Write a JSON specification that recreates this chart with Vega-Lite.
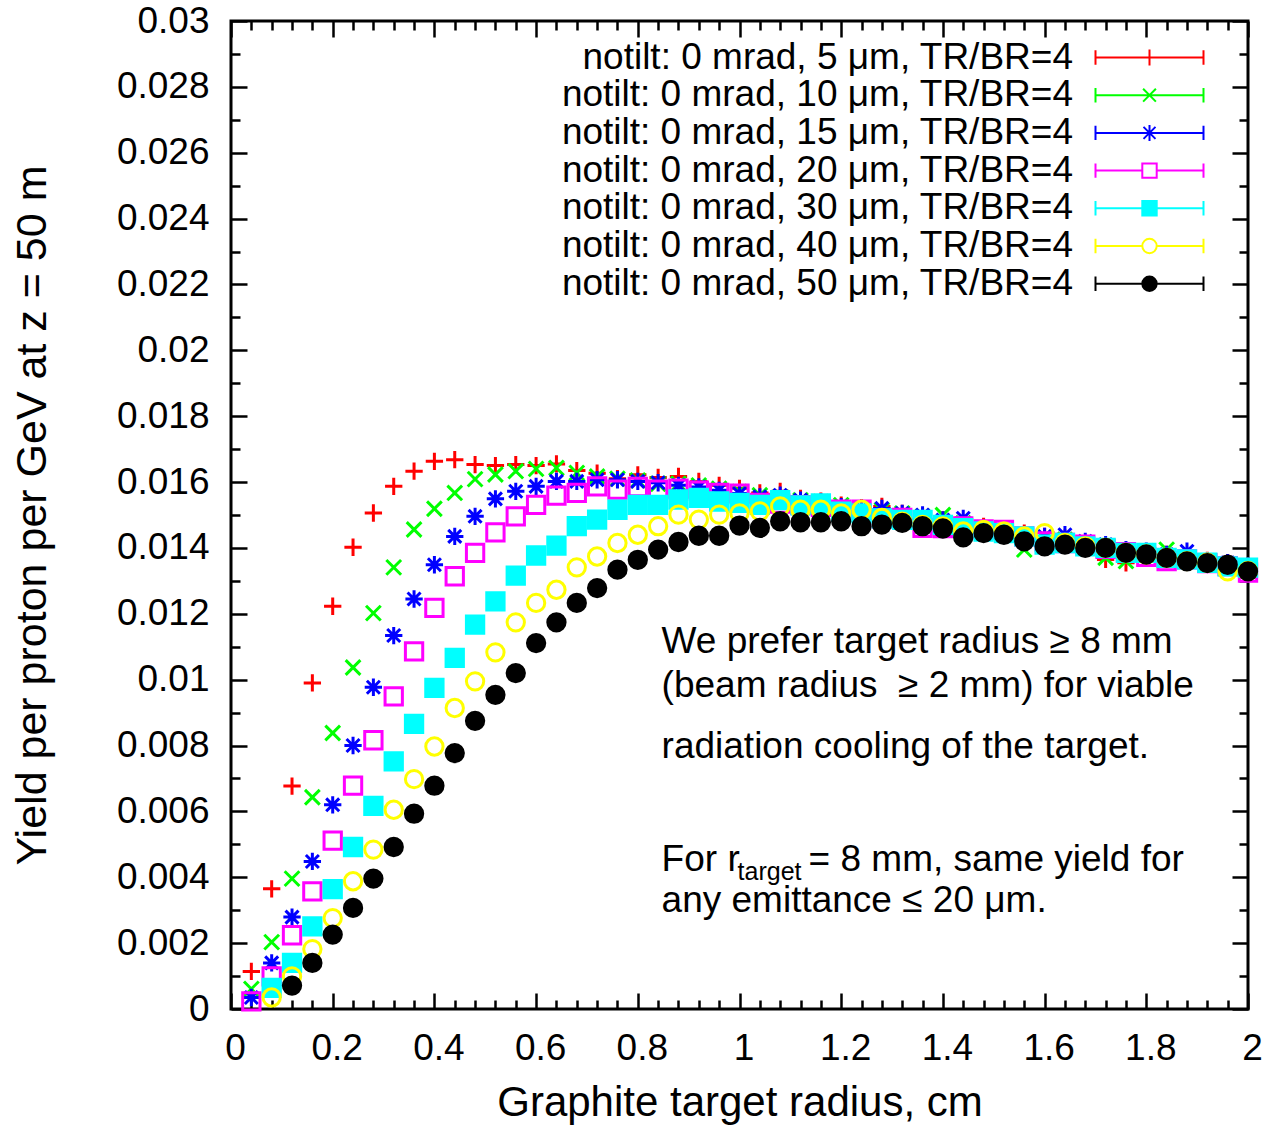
{
  "$schema": "https://vega.github.io/schema/vega-lite/v6.json",
  "width": 1017,
  "height": 988,
  "autosize": {"type": "none"},
  "padding": {"left": 231, "top": 21, "right": 18, "bottom": 116},
  "background": "white",
  "config": {
    "view": {"stroke": "black", "strokeWidth": 3},
    "font": "Liberation Sans",
    "legend": {"symbolOpacity": 1},
    "axis": {"domain": false, "grid": false, "tickColor": "black", "tickWidth": 2.5, "labelFont": "Liberation Sans", "labelFontSize": 37, "labelColor": "black", "titleFont": "Liberation Sans", "titleFontSize": 42, "titleFontWeight": "normal", "titleColor": "black", "labelOverlap": false, "labelFlush": false}
  },
  "resolve": {"axis": {"x": "independent", "y": "independent"}},
  "datasets": {
    "pts": [
{"s":"5","x":0.04,"y":0.00114},{"s":"5","x":0.08,"y":0.00365},{"s":"5","x":0.12,"y":0.00677},{"s":"5","x":0.16,"y":0.0099},{"s":"5","x":0.2,"y":0.01223},{"s":"5","x":0.24,"y":0.01402},{"s":"5","x":0.28,"y":0.01506},{"s":"5","x":0.32,"y":0.01587},{"s":"5","x":0.36,"y":0.01633},{"s":"5","x":0.4,"y":0.01663},{"s":"5","x":0.44,"y":0.01668},{"s":"5","x":0.48,"y":0.01653},{"s":"5","x":0.52,"y":0.0165},{"s":"5","x":0.56,"y":0.01653},{"s":"5","x":0.6,"y":0.0165},{"s":"5","x":0.64,"y":0.01655},{"s":"5","x":0.68,"y":0.01635},{"s":"5","x":0.72,"y":0.01627},{"s":"5","x":0.76,"y":0.0161},{"s":"5","x":0.8,"y":0.01622},{"s":"5","x":0.84,"y":0.01614},{"s":"5","x":0.88,"y":0.01617},{"s":"5","x":0.92,"y":0.01602},{"s":"5","x":0.96,"y":0.0159},{"s":"5","x":1,"y":0.01581},{"s":"5","x":1.04,"y":0.01567},{"s":"5","x":1.08,"y":0.01572},{"s":"5","x":1.12,"y":0.0155},{"s":"5","x":1.16,"y":0.01542},{"s":"5","x":1.2,"y":0.0153},{"s":"5","x":1.24,"y":0.01522},{"s":"5","x":1.28,"y":0.01526},{"s":"5","x":1.32,"y":0.01505},{"s":"5","x":1.36,"y":0.01495},{"s":"5","x":1.4,"y":0.01485},{"s":"5","x":1.44,"y":0.01475},{"s":"5","x":1.48,"y":0.01465},{"s":"5","x":1.52,"y":0.01455},{"s":"5","x":1.56,"y":0.01445},{"s":"5","x":1.6,"y":0.01435},{"s":"5","x":1.64,"y":0.0143},{"s":"5","x":1.68,"y":0.01405},{"s":"5","x":1.72,"y":0.01365},{"s":"5","x":1.76,"y":0.01355},{"s":"5","x":1.8,"y":0.0138},{"s":"5","x":1.84,"y":0.0138},{"s":"5","x":1.88,"y":0.01372},{"s":"5","x":1.92,"y":0.01362},{"s":"5","x":1.96,"y":0.01355},{"s":"5","x":2,"y":0.01345},
{"s":"10","x":0.04,"y":0.00061},{"s":"10","x":0.08,"y":0.00203},{"s":"10","x":0.12,"y":0.00396},{"s":"10","x":0.16,"y":0.00643},{"s":"10","x":0.2,"y":0.00838},{"s":"10","x":0.24,"y":0.01037},{"s":"10","x":0.28,"y":0.01202},{"s":"10","x":0.32,"y":0.01341},{"s":"10","x":0.36,"y":0.01456},{"s":"10","x":0.4,"y":0.01519},{"s":"10","x":0.44,"y":0.01567},{"s":"10","x":0.48,"y":0.01609},{"s":"10","x":0.52,"y":0.01623},{"s":"10","x":0.56,"y":0.01633},{"s":"10","x":0.6,"y":0.0164},{"s":"10","x":0.64,"y":0.01643},{"s":"10","x":0.68,"y":0.01628},{"s":"10","x":0.72,"y":0.01617},{"s":"10","x":0.76,"y":0.0161},{"s":"10","x":0.8,"y":0.01605},{"s":"10","x":0.84,"y":0.01595},{"s":"10","x":0.88,"y":0.01595},{"s":"10","x":0.92,"y":0.0159},{"s":"10","x":0.96,"y":0.0158},{"s":"10","x":1,"y":0.0157},{"s":"10","x":1.04,"y":0.0156},{"s":"10","x":1.08,"y":0.01555},{"s":"10","x":1.12,"y":0.01545},{"s":"10","x":1.16,"y":0.0154},{"s":"10","x":1.2,"y":0.0153},{"s":"10","x":1.24,"y":0.0152},{"s":"10","x":1.28,"y":0.01515},{"s":"10","x":1.32,"y":0.01505},{"s":"10","x":1.36,"y":0.01495},{"s":"10","x":1.4,"y":0.015},{"s":"10","x":1.44,"y":0.01475},{"s":"10","x":1.48,"y":0.0146},{"s":"10","x":1.52,"y":0.0145},{"s":"10","x":1.56,"y":0.01395},{"s":"10","x":1.6,"y":0.0143},{"s":"10","x":1.64,"y":0.01425},{"s":"10","x":1.68,"y":0.01415},{"s":"10","x":1.72,"y":0.0137},{"s":"10","x":1.76,"y":0.0136},{"s":"10","x":1.8,"y":0.0139},{"s":"10","x":1.84,"y":0.01395},{"s":"10","x":1.88,"y":0.0137},{"s":"10","x":1.92,"y":0.0136},{"s":"10","x":1.96,"y":0.0135},{"s":"10","x":2,"y":0.0134},
{"s":"15","x":0.04,"y":0.00035},{"s":"15","x":0.08,"y":0.0014},{"s":"15","x":0.12,"y":0.00279},{"s":"15","x":0.16,"y":0.00448},{"s":"15","x":0.2,"y":0.0062},{"s":"15","x":0.24,"y":0.008},{"s":"15","x":0.28,"y":0.00977},{"s":"15","x":0.32,"y":0.01134},{"s":"15","x":0.36,"y":0.01245},{"s":"15","x":0.4,"y":0.01349},{"s":"15","x":0.44,"y":0.01435},{"s":"15","x":0.48,"y":0.01496},{"s":"15","x":0.52,"y":0.01549},{"s":"15","x":0.56,"y":0.01572},{"s":"15","x":0.6,"y":0.01587},{"s":"15","x":0.64,"y":0.01602},{"s":"15","x":0.68,"y":0.01602},{"s":"15","x":0.72,"y":0.01607},{"s":"15","x":0.76,"y":0.01607},{"s":"15","x":0.8,"y":0.01602},{"s":"15","x":0.84,"y":0.01598},{"s":"15","x":0.88,"y":0.0159},{"s":"15","x":0.92,"y":0.01585},{"s":"15","x":0.96,"y":0.01575},{"s":"15","x":1,"y":0.01565},{"s":"15","x":1.04,"y":0.01555},{"s":"15","x":1.08,"y":0.0156},{"s":"15","x":1.12,"y":0.01545},{"s":"15","x":1.16,"y":0.0154},{"s":"15","x":1.2,"y":0.01525},{"s":"15","x":1.24,"y":0.0152},{"s":"15","x":1.28,"y":0.0152},{"s":"15","x":1.32,"y":0.01505},{"s":"15","x":1.36,"y":0.015},{"s":"15","x":1.4,"y":0.01485},{"s":"15","x":1.44,"y":0.0149},{"s":"15","x":1.48,"y":0.0146},{"s":"15","x":1.52,"y":0.0145},{"s":"15","x":1.56,"y":0.0144},{"s":"15","x":1.6,"y":0.01435},{"s":"15","x":1.64,"y":0.0144},{"s":"15","x":1.68,"y":0.0142},{"s":"15","x":1.72,"y":0.0141},{"s":"15","x":1.76,"y":0.01395},{"s":"15","x":1.8,"y":0.0139},{"s":"15","x":1.84,"y":0.0138},{"s":"15","x":1.88,"y":0.0139},{"s":"15","x":1.92,"y":0.0136},{"s":"15","x":1.96,"y":0.01355},{"s":"15","x":2,"y":0.01345},
{"s":"20","x":0.04,"y":0.00023},{"s":"20","x":0.08,"y":0.00099},{"s":"20","x":0.12,"y":0.00224},{"s":"20","x":0.16,"y":0.00357},{"s":"20","x":0.2,"y":0.00511},{"s":"20","x":0.24,"y":0.00678},{"s":"20","x":0.28,"y":0.00816},{"s":"20","x":0.32,"y":0.00949},{"s":"20","x":0.36,"y":0.01086},{"s":"20","x":0.4,"y":0.01218},{"s":"20","x":0.44,"y":0.01314},{"s":"20","x":0.48,"y":0.01385},{"s":"20","x":0.52,"y":0.01447},{"s":"20","x":0.56,"y":0.01496},{"s":"20","x":0.6,"y":0.01531},{"s":"20","x":0.64,"y":0.01559},{"s":"20","x":0.68,"y":0.01567},{"s":"20","x":0.72,"y":0.01587},{"s":"20","x":0.76,"y":0.01577},{"s":"20","x":0.8,"y":0.01585},{"s":"20","x":0.84,"y":0.01577},{"s":"20","x":0.88,"y":0.0158},{"s":"20","x":0.92,"y":0.01574},{"s":"20","x":0.96,"y":0.01567},{"s":"20","x":1,"y":0.01565},{"s":"20","x":1.04,"y":0.01537},{"s":"20","x":1.08,"y":0.01535},{"s":"20","x":1.12,"y":0.0153},{"s":"20","x":1.16,"y":0.01525},{"s":"20","x":1.2,"y":0.01516},{"s":"20","x":1.24,"y":0.01516},{"s":"20","x":1.28,"y":0.0149},{"s":"20","x":1.32,"y":0.01491},{"s":"20","x":1.36,"y":0.01461},{"s":"20","x":1.4,"y":0.0146},{"s":"20","x":1.44,"y":0.01465},{"s":"20","x":1.48,"y":0.01456},{"s":"20","x":1.52,"y":0.01455},{"s":"20","x":1.56,"y":0.01435},{"s":"20","x":1.6,"y":0.0142},{"s":"20","x":1.64,"y":0.01415},{"s":"20","x":1.68,"y":0.0141},{"s":"20","x":1.72,"y":0.01397},{"s":"20","x":1.76,"y":0.01387},{"s":"20","x":1.8,"y":0.01373},{"s":"20","x":1.84,"y":0.0136},{"s":"20","x":1.88,"y":0.01365},{"s":"20","x":1.92,"y":0.01354},{"s":"20","x":1.96,"y":0.01345},{"s":"20","x":2,"y":0.01325},
{"s":"30","x":0.08,"y":0.00064},{"s":"30","x":0.12,"y":0.0014},{"s":"30","x":0.16,"y":0.00251},{"s":"30","x":0.2,"y":0.00364},{"s":"30","x":0.24,"y":0.00492},{"s":"30","x":0.28,"y":0.00617},{"s":"30","x":0.32,"y":0.00752},{"s":"30","x":0.36,"y":0.00866},{"s":"30","x":0.4,"y":0.00975},{"s":"30","x":0.44,"y":0.01066},{"s":"30","x":0.48,"y":0.01167},{"s":"30","x":0.52,"y":0.01238},{"s":"30","x":0.56,"y":0.01316},{"s":"30","x":0.6,"y":0.01377},{"s":"30","x":0.64,"y":0.01407},{"s":"30","x":0.68,"y":0.01466},{"s":"30","x":0.72,"y":0.01486},{"s":"30","x":0.76,"y":0.01516},{"s":"30","x":0.8,"y":0.01531},{"s":"30","x":0.84,"y":0.01531},{"s":"30","x":0.88,"y":0.01547},{"s":"30","x":0.92,"y":0.01552},{"s":"30","x":0.96,"y":0.01541},{"s":"30","x":1,"y":0.01537},{"s":"30","x":1.04,"y":0.01531},{"s":"30","x":1.08,"y":0.01545},{"s":"30","x":1.12,"y":0.01529},{"s":"30","x":1.16,"y":0.01535},{"s":"30","x":1.2,"y":0.0151},{"s":"30","x":1.24,"y":0.01505},{"s":"30","x":1.28,"y":0.0149},{"s":"30","x":1.32,"y":0.01485},{"s":"30","x":1.36,"y":0.01485},{"s":"30","x":1.4,"y":0.0147},{"s":"30","x":1.44,"y":0.0146},{"s":"30","x":1.48,"y":0.0145},{"s":"30","x":1.52,"y":0.01445},{"s":"30","x":1.56,"y":0.01435},{"s":"30","x":1.6,"y":0.0141},{"s":"30","x":1.64,"y":0.01415},{"s":"30","x":1.68,"y":0.01405},{"s":"30","x":1.72,"y":0.014},{"s":"30","x":1.76,"y":0.01385},{"s":"30","x":1.8,"y":0.01385},{"s":"30","x":1.84,"y":0.0137},{"s":"30","x":1.88,"y":0.01365},{"s":"30","x":1.92,"y":0.01355},{"s":"30","x":1.96,"y":0.01344},{"s":"30","x":2,"y":0.0134},
{"s":"40","x":0.08,"y":0.00035},{"s":"40","x":0.12,"y":0.00099},{"s":"40","x":0.16,"y":0.00182},{"s":"40","x":0.2,"y":0.00276},{"s":"40","x":0.24,"y":0.00388},{"s":"40","x":0.28,"y":0.00484},{"s":"40","x":0.32,"y":0.00605},{"s":"40","x":0.36,"y":0.00698},{"s":"40","x":0.4,"y":0.00797},{"s":"40","x":0.44,"y":0.00914},{"s":"40","x":0.48,"y":0.00995},{"s":"40","x":0.52,"y":0.01083},{"s":"40","x":0.56,"y":0.01174},{"s":"40","x":0.6,"y":0.01233},{"s":"40","x":0.64,"y":0.01273},{"s":"40","x":0.68,"y":0.01341},{"s":"40","x":0.72,"y":0.01374},{"s":"40","x":0.76,"y":0.01415},{"s":"40","x":0.8,"y":0.0144},{"s":"40","x":0.84,"y":0.01466},{"s":"40","x":0.88,"y":0.01501},{"s":"40","x":0.92,"y":0.01486},{"s":"40","x":0.96,"y":0.01501},{"s":"40","x":1,"y":0.01505},{"s":"40","x":1.04,"y":0.01511},{"s":"40","x":1.08,"y":0.01526},{"s":"40","x":1.12,"y":0.01516},{"s":"40","x":1.16,"y":0.01516},{"s":"40","x":1.2,"y":0.01505},{"s":"40","x":1.24,"y":0.01516},{"s":"40","x":1.28,"y":0.01491},{"s":"40","x":1.32,"y":0.0148},{"s":"40","x":1.36,"y":0.0147},{"s":"40","x":1.4,"y":0.01465},{"s":"40","x":1.44,"y":0.0145},{"s":"40","x":1.48,"y":0.01455},{"s":"40","x":1.52,"y":0.0145},{"s":"40","x":1.56,"y":0.01435},{"s":"40","x":1.6,"y":0.01445},{"s":"40","x":1.64,"y":0.01415},{"s":"40","x":1.68,"y":0.01405},{"s":"40","x":1.72,"y":0.014},{"s":"40","x":1.76,"y":0.01385},{"s":"40","x":1.8,"y":0.0138},{"s":"40","x":1.84,"y":0.0137},{"s":"40","x":1.88,"y":0.0136},{"s":"40","x":1.92,"y":0.01355},{"s":"40","x":1.96,"y":0.01329},{"s":"40","x":2,"y":0.0133},
{"s":"50","x":0.12,"y":0.00071},{"s":"50","x":0.16,"y":0.0014},{"s":"50","x":0.2,"y":0.00226},{"s":"50","x":0.24,"y":0.00307},{"s":"50","x":0.28,"y":0.00396},{"s":"50","x":0.32,"y":0.00492},{"s":"50","x":0.36,"y":0.00593},{"s":"50","x":0.4,"y":0.00678},{"s":"50","x":0.44,"y":0.00777},{"s":"50","x":0.48,"y":0.00875},{"s":"50","x":0.52,"y":0.00954},{"s":"50","x":0.56,"y":0.0102},{"s":"50","x":0.6,"y":0.01111},{"s":"50","x":0.64,"y":0.01174},{"s":"50","x":0.68,"y":0.01233},{"s":"50","x":0.72,"y":0.01278},{"s":"50","x":0.76,"y":0.01334},{"s":"50","x":0.8,"y":0.01364},{"s":"50","x":0.84,"y":0.01395},{"s":"50","x":0.88,"y":0.01418},{"s":"50","x":0.92,"y":0.01437},{"s":"50","x":0.96,"y":0.01437},{"s":"50","x":1,"y":0.01468},{"s":"50","x":1.04,"y":0.01461},{"s":"50","x":1.08,"y":0.01481},{"s":"50","x":1.12,"y":0.01478},{"s":"50","x":1.16,"y":0.01478},{"s":"50","x":1.2,"y":0.01481},{"s":"50","x":1.24,"y":0.01466},{"s":"50","x":1.28,"y":0.01471},{"s":"50","x":1.32,"y":0.01476},{"s":"50","x":1.36,"y":0.01466},{"s":"50","x":1.4,"y":0.01459},{"s":"50","x":1.44,"y":0.01432},{"s":"50","x":1.48,"y":0.01445},{"s":"50","x":1.52,"y":0.0144},{"s":"50","x":1.56,"y":0.0142},{"s":"50","x":1.6,"y":0.01405},{"s":"50","x":1.64,"y":0.0141},{"s":"50","x":1.68,"y":0.014},{"s":"50","x":1.72,"y":0.014},{"s":"50","x":1.76,"y":0.01385},{"s":"50","x":1.8,"y":0.0138},{"s":"50","x":1.84,"y":0.0137},{"s":"50","x":1.88,"y":0.01359},{"s":"50","x":1.92,"y":0.01354},{"s":"50","x":1.96,"y":0.01349},{"s":"50","x":2,"y":0.01329}
    ],
    "notesA": [
      {"x": 0.8468, "y": 0.01082, "t": "We prefer target radius ≥ 8 mm"},
      {"x": 0.8468, "y": 0.009484, "t": "(beam radius\u00a0 ≥ 2 mm) for viable"},
      {"x": 0.8468, "y": 0.007632, "t": "radiation cooling of the target."}
    ],
    "notesB": [
      {"x": 0.8468, "y": 0.004199, "t": "For r"},
      {"x": 1.1359, "y": 0.004199, "t": "= 8 mm, same yield for"},
      {"x": 0.8468, "y": 0.002943, "t": "any emittance ≤ 20 μm."}
    ],
    "notesC": [
      {"x": 0.9963, "y": 0.003924, "t": "target"}
    ]
  },
  "layer": [
    {
      "data": {"name": "pts"},
      "mark": {"type": "point", "size": 300, "strokeWidth": 3, "opacity": 1,
               "shape": {"expr": "datum.s === '5' ? 'M-1,0L1,0M0,-1L0,1' : datum.s === '10' ? 'M-0.85,-0.85L0.85,0.85M-0.85,0.85L0.85,-0.85' : datum.s === '15' ? 'M-1,0L1,0M0,-1L0,1M-0.75,-0.75L0.75,0.75M-0.75,0.75L0.75,-0.75' : (datum.s === '20' || datum.s === '30') ? 'square' : 'circle'"}},
      "encoding": {
        "x": {"field": "x", "type": "quantitative", "scale": {"domain": [0, 2], "nice": false, "zero": false},
              "axis": {"orient": "bottom", "values": [0, 0.2, 0.4, 0.6, 0.8, 1, 1.2, 1.4, 1.6, 1.8, 2], "format": "~g", "tickSize": -16, "labelPadding": 37, "labelOffset": 4, "title": "Graphite target radius, cm", "titlePadding": 16}},
        "y": {"field": "y", "type": "quantitative", "scale": {"domain": [0, 0.03], "nice": false, "zero": false},
              "axis": {"orient": "left", "values": [0, 0.002, 0.004, 0.006, 0.008, 0.01, 0.012, 0.014, 0.016, 0.018, 0.02, 0.022, 0.024, 0.026, 0.028, 0.03], "format": "~g", "tickSize": -16, "labelPadding": 38, "title": "Yield per proton per GeV at z = 50 m", "titleFontSize": 43, "titlePadding": 62}},
        "fill": {"field": "s", "type": "nominal",
                 "scale": {"domain": ["5", "10", "15", "20", "30", "40", "50"],
                           "range": ["transparent", "transparent", "transparent", "transparent", "#00ffff", "transparent", "#000000"]},
                 "legend": {
                     "orient": "none", "legendX": 900, "legendY": 18, "title": null, "padding": 0,
                     "labelExpr": "'notilt: 0 mrad, ' + datum.label + ' μm, TR/BR=4'",
                     "labelAlign": "right", "labelOffset": -95, "labelFontSize": 37, "labelFont": "Liberation Sans", "labelColor": "black", "labelLimit": 0,
                     "symbolSize": 256, "symbolStrokeWidth": 2, "symbolOpacity": 1, "rowPadding": -0.3}},
        "stroke": {"field": "s", "type": "nominal",
                   "scale": {"domain": ["5", "10", "15", "20", "30", "40", "50"],
                             "range": ["#ff0000", "#00ff00", "#0000ff", "#ff00ff", "#00ffff", "#ffff00", "#000000"]},
                   "legend": {
                     "orient": "none", "legendX": 900, "legendY": 18, "title": null, "padding": 0,
                     "labelExpr": "'notilt: 0 mrad, ' + datum.label + ' μm, TR/BR=4'",
                     "labelAlign": "right", "labelOffset": -95, "labelFontSize": 37, "labelFont": "Liberation Sans", "labelColor": "black", "labelLimit": 0,
                     "symbolSize": 256, "symbolStrokeWidth": 2, "symbolOpacity": 1, "rowPadding": -0.3}}
      }
    },
    {
      "data": {"name": "notesA"},
      "mark": {"type": "text", "align": "left", "baseline": "alphabetic", "fontSize": 37, "font": "Liberation Sans", "color": "black"},
      "encoding": {
        "x": {"field": "x", "type": "quantitative", "scale": {"domain": [0, 2], "nice": false, "zero": false},
              "axis": {"orient": "bottom", "values": [0.04, 0.08, 0.12, 0.16, 0.24, 0.28, 0.32, 0.36, 0.44, 0.48, 0.52, 0.56, 0.64, 0.68, 0.72, 0.76, 0.84, 0.88, 0.92, 0.96, 1.04, 1.08, 1.12, 1.16, 1.24, 1.28, 1.32, 1.36, 1.44, 1.48, 1.52, 1.56, 1.64, 1.68, 1.72, 1.76, 1.84, 1.88, 1.92, 1.96], "tickSize": -9, "labels": false, "title": null}},
        "y": {"field": "y", "type": "quantitative", "scale": {"domain": [0, 0.03], "nice": false, "zero": false},
              "axis": {"orient": "left", "values": [0.001, 0.003, 0.005, 0.007, 0.009, 0.011, 0.013, 0.015, 0.017, 0.019, 0.021, 0.023, 0.025, 0.027, 0.029], "tickSize": -9, "labels": false, "title": null}},
        "text": {"field": "t"}
      }
    },
    {
      "data": {"name": "notesB"},
      "mark": {"type": "text", "align": "left", "baseline": "alphabetic", "fontSize": 37, "font": "Liberation Sans", "color": "black"},
      "encoding": {
        "x": {"field": "x", "type": "quantitative", "scale": {"domain": [0, 2], "nice": false, "zero": false},
              "axis": {"orient": "top", "values": [0, 0.2, 0.4, 0.6, 0.8, 1, 1.2, 1.4, 1.6, 1.8, 2], "tickSize": -16, "labels": false, "title": null}},
        "y": {"field": "y", "type": "quantitative", "scale": {"domain": [0, 0.03], "nice": false, "zero": false},
              "axis": {"orient": "right", "values": [0, 0.002, 0.004, 0.006, 0.008, 0.01, 0.012, 0.014, 0.016, 0.018, 0.02, 0.022, 0.024, 0.026, 0.028, 0.03], "tickSize": -16, "labels": false, "title": null}},
        "text": {"field": "t"}
      }
    },
    {
      "data": {"name": "notesC"},
      "mark": {"type": "text", "align": "left", "baseline": "alphabetic", "fontSize": 25, "font": "Liberation Sans", "color": "black"},
      "encoding": {
        "x": {"field": "x", "type": "quantitative", "scale": {"domain": [0, 2], "nice": false, "zero": false},
              "axis": {"orient": "top", "values": [0.04, 0.08, 0.12, 0.16, 0.24, 0.28, 0.32, 0.36, 0.44, 0.48, 0.52, 0.56, 0.64, 0.68, 0.72, 0.76, 0.84, 0.88, 0.92, 0.96, 1.04, 1.08, 1.12, 1.16, 1.24, 1.28, 1.32, 1.36, 1.44, 1.48, 1.52, 1.56, 1.64, 1.68, 1.72, 1.76, 1.84, 1.88, 1.92, 1.96], "tickSize": -9, "labels": false, "title": null}},
        "y": {"field": "y", "type": "quantitative", "scale": {"domain": [0, 0.03], "nice": false, "zero": false},
              "axis": {"orient": "right", "values": [0.001, 0.003, 0.005, 0.007, 0.009, 0.011, 0.013, 0.015, 0.017, 0.019, 0.021, 0.023, 0.025, 0.027, 0.029], "tickSize": -9, "labels": false, "title": null}},
        "text": {"field": "t"}
      }
    },
    {
      "data": {"name": "pts"},
      "mark": {"type": "point", "size": 300, "strokeWidth": 2, "opacity": 0},
      "encoding": {
        "shape": {"field": "s", "type": "nominal",
                  "scale": {"domain": ["5", "10", "15", "20", "30", "40", "50"],
                            "range": ["M-6.75,0L6.75,0M-6.75,-0.9L-6.75,0.9M6.75,-0.9L6.75,0.9M0,-1L0,1", "M-6.75,0L6.75,0M-6.75,-0.9L-6.75,0.9M6.75,-0.9L6.75,0.9M-0.8,-0.8L0.8,0.8M-0.8,0.8L0.8,-0.8", "M-6.75,0L6.75,0M-6.75,-0.9L-6.75,0.9M6.75,-0.9L6.75,0.9M0,-1L0,1M-0.75,-0.75L0.75,0.75M-0.75,0.75L0.75,-0.75", "M-6.75,0L-0.9,0M0.9,0L6.75,0M-6.75,-0.9L-6.75,0.9M6.75,-0.9L6.75,0.9M-0.9,-0.9L0.9,-0.9L0.9,0.9L-0.9,0.9Z", "M-6.75,0L-0.9,0M0.9,0L6.75,0M-6.75,-0.9L-6.75,0.9M6.75,-0.9L6.75,0.9M-0.9,-0.9L0.9,-0.9L0.9,0.9L-0.9,0.9Z", "M-6.75,0L-0.9,0M0.9,0L6.75,0M-6.75,-0.9L-6.75,0.9M6.75,-0.9L6.75,0.9M-0.9,0A0.9,0.9 0 1,0 0.9,0A0.9,0.9 0 1,0 -0.9,0Z", "M-6.75,0L-0.9,0M0.9,0L6.75,0M-6.75,-0.9L-6.75,0.9M6.75,-0.9L6.75,0.9M-0.9,0A0.9,0.9 0 1,0 0.9,0A0.9,0.9 0 1,0 -0.9,0Z"]},
                  "legend": {
                     "orient": "none", "legendX": 900, "legendY": 18, "title": null, "padding": 0,
                     "labelExpr": "'notilt: 0 mrad, ' + datum.label + ' μm, TR/BR=4'",
                     "labelAlign": "right", "labelOffset": -95, "labelFontSize": 37, "labelFont": "Liberation Sans", "labelColor": "black", "labelLimit": 0,
                     "symbolSize": 256, "symbolStrokeWidth": 2, "symbolOpacity": 1, "rowPadding": -0.3}}
      }
    }
  ]
}
